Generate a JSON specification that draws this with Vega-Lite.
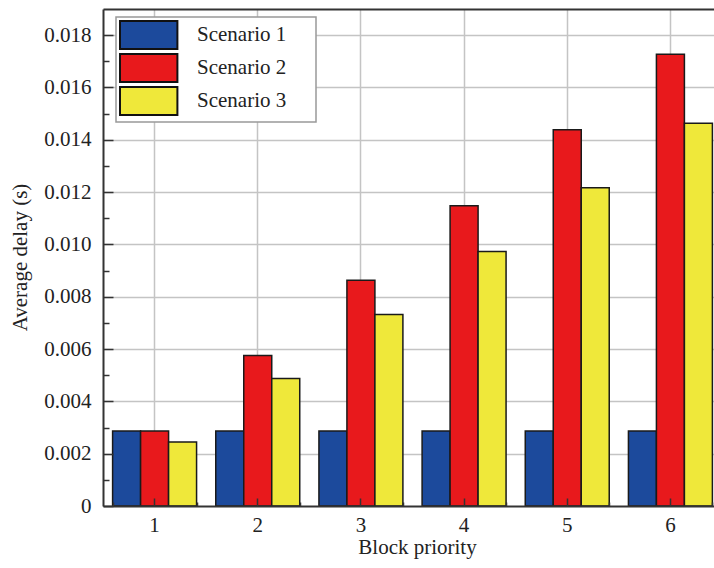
{
  "$schema": "https://vega.github.io/schema/vega-lite/v6.json",
  "width": 611,
  "height": 497,
  "autosize": {"type": "none"},
  "padding": {"left": 103, "top": 9, "right": 0, "bottom": 62},
  "background": "white",
  "config": {
    "view": {"stroke": null},
    "font": "'Liberation Serif', 'DejaVu Serif', serif",
    "legend": {"strokeWidth": 1.5},
    "axis": {
      "labelFont": "'Liberation Serif', 'DejaVu Serif', serif",
      "titleFont": "'Liberation Serif', 'DejaVu Serif', serif",
      "labelFontSize": 21,
      "titleFontSize": 21,
      "labelColor": "#222",
      "titleColor": "#222",
      "titleFontWeight": "normal",
      "domainColor": "#333",
      "domainWidth": 2,
      "tickColor": "#333",
      "tickWidth": 1.5,
      "gridColor": "#c4c4c4",
      "gridWidth": 1.5
    }
  },
  "data": {
    "values": [
      {"priority": "1", "scenario": "Scenario 1", "delay": 0.00287},
      {"priority": "1", "scenario": "Scenario 2", "delay": 0.00287},
      {"priority": "1", "scenario": "Scenario 3", "delay": 0.00245},
      {"priority": "2", "scenario": "Scenario 1", "delay": 0.00287},
      {"priority": "2", "scenario": "Scenario 2", "delay": 0.00575},
      {"priority": "2", "scenario": "Scenario 3", "delay": 0.00487},
      {"priority": "3", "scenario": "Scenario 1", "delay": 0.00287},
      {"priority": "3", "scenario": "Scenario 2", "delay": 0.00863},
      {"priority": "3", "scenario": "Scenario 3", "delay": 0.00732},
      {"priority": "4", "scenario": "Scenario 1", "delay": 0.00287},
      {"priority": "4", "scenario": "Scenario 2", "delay": 0.01148},
      {"priority": "4", "scenario": "Scenario 3", "delay": 0.00973},
      {"priority": "5", "scenario": "Scenario 1", "delay": 0.00287},
      {"priority": "5", "scenario": "Scenario 2", "delay": 0.01438},
      {"priority": "5", "scenario": "Scenario 3", "delay": 0.01217},
      {"priority": "6", "scenario": "Scenario 1", "delay": 0.00287},
      {"priority": "6", "scenario": "Scenario 2", "delay": 0.01727},
      {"priority": "6", "scenario": "Scenario 3", "delay": 0.01463}
    ]
  },
  "layer": [
    {
      "mark": {"type": "bar", "stroke": "#1a1a1a", "strokeWidth": 1.5},
      "encoding": {
        "x": {
          "field": "priority",
          "type": "ordinal",
          "scale": {"range": [0, 619], "paddingInner": 0.186, "paddingOuter": 0.093},
          "axis": {"orient": "bottom", "grid": true, "domain": false, "ticks": false, "labels": false, "title": null, "bandPosition": 0.5, "zindex": 0}
        },
        "xOffset": {"field": "scenario", "scale": {"paddingInner": 0, "paddingOuter": 0}},
        "y": {
          "field": "delay",
          "type": "quantitative",
          "scale": {"domain": [0, 0.019], "nice": false},
          "axis": {"orient": "left", "grid": true, "domain": false, "ticks": false, "labels": false, "title": null, "values": [0.002, 0.004, 0.006, 0.008, 0.01, 0.012, 0.014, 0.016, 0.018], "zindex": 0}
        },
        "color": {
          "field": "scenario",
          "type": "nominal",
          "scale": {"domain": ["Scenario 1", "Scenario 2", "Scenario 3"], "range": ["#1c4a9c", "#e8191c", "#efe83a"]},
          "legend": {
            "orient": "none",
            "legendX": 13,
            "legendY": 8,
            "title": null,
            "symbolType": "M-1,-1H3.1V1H-1Z",
            "symbolSize": 784,
            "symbolStrokeColor": "#111",
            "symbolStrokeWidth": 2,
            "symbolOpacity": 1,
            "labelFont": "'Liberation Serif', 'DejaVu Serif', serif",
            "labelFontSize": 21,
            "labelColor": "#222",
            "labelOffset": 48,
            "labelExpr": "datum.label + '\u00a0\u00a0\u00a0\u00a0\u00a0\u200b'",
            "padding": 3,
            "rowPadding": -4.5,
            "strokeColor": "#999",
            "fillColor": "white"
          }
        }
      }
    },
    {
      "mark": {"type": "tick", "opacity": 0},
      "encoding": {
        "x": {
          "field": "priority",
          "type": "ordinal",
          "axis": {"orient": "bottom", "grid": false, "domain": true, "ticks": true, "tickSize": -8, "labelPadding": 16, "labelAngle": 0, "title": "Block priority", "titleX": 314, "titleY": 47, "titleBaseline": "alphabetic", "bandPosition": 0.5, "zindex": 1}
        },
        "y": {
          "field": "delay",
          "type": "quantitative",
          "axis": {"orient": "left", "grid": false, "domain": true, "ticks": true, "tickSize": -10, "labelPadding": 22, "values": [0, 0.002, 0.004, 0.006, 0.008, 0.01, 0.012, 0.014, 0.016, 0.018], "labelExpr": "datum.value == 0 ? '0' : format(datum.value, '.3f')", "title": "Average delay (s)", "titleX": -77, "titleY": 248, "titleBaseline": "alphabetic", "titleAngle": -90, "zindex": 1}
        }
      }
    },
    {
      "mark": {"type": "tick", "opacity": 0},
      "encoding": {
        "x": {
          "field": "priority",
          "type": "ordinal",
          "axis": {"orient": "bottom", "grid": false, "domain": false, "ticks": true, "tickSize": -4, "tickBand": "extent", "labels": false, "title": null, "zindex": 1}
        },
        "y": {
          "field": "delay",
          "type": "quantitative",
          "axis": {"orient": "left", "grid": false, "domain": false, "ticks": true, "tickSize": -6, "labels": false, "title": null, "values": [0.001, 0.003, 0.005, 0.007, 0.009, 0.011, 0.013, 0.015, 0.017], "zindex": 1}
        }
      }
    },
    {
      "mark": {"type": "tick", "opacity": 0},
      "encoding": {
        "x": {
          "field": "priority",
          "type": "ordinal",
          "axis": {"orient": "top", "grid": false, "domain": true, "ticks": false, "labels": false, "title": null, "zindex": 1}
        },
        "y": {"field": "delay", "type": "quantitative", "axis": null}
      }
    }
  ],
  "resolve": {"axis": {"x": "independent", "y": "independent"}}
}
